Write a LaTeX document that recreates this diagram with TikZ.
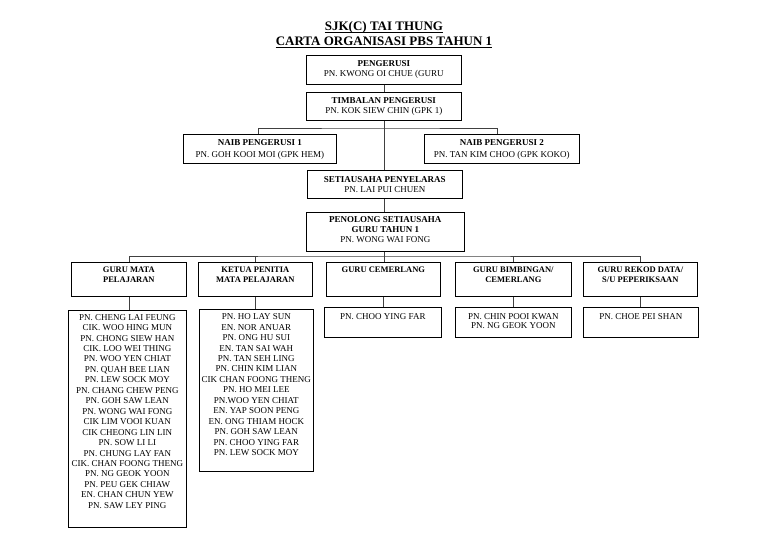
\documentclass[tikz,border=0pt]{standalone}
\usepackage{fontspec}
\setmainfont{Liberation Serif}
\begin{document}
\begin{tikzpicture}[x=1pt,y=-1pt,
  box/.style={draw, line width=0.7pt, inner sep=0pt, anchor=north west},
  txt/.style={font=\fontsize{9}{10}\selectfont, align=center, inner sep=0pt, anchor=north},
  hdr/.style={font=\bfseries\fontsize{8.5}{10}\selectfont, align=center, inner sep=0pt, anchor=north},
  lst/.style={font=\fontsize{9}{10.45}\selectfont, align=center, inner sep=0pt, anchor=north},
  ttl/.style={font=\bfseries\fontsize{13}{15}\selectfont, inner sep=0pt, anchor=base},
  uline/.style={draw=black, line width=0.8pt},
  conn/.style={draw=black!75, line width=0.6pt}]
\useasboundingbox[fill=white] (0,0) rectangle (768,543);
% title
\node[ttl] (title1) at (384,31) {SJK(C) TAI THUNG};
\node[ttl] (title2) at (384,45.5) {CARTA ORGANISASI PBS TAHUN 1};
\draw[uline] ([yshift=-1.6pt]title1.base west) -- ([yshift=-1.6pt]title1.base east);
\draw[uline] ([yshift=-1.6pt]title2.base west) -- ([yshift=-1.6pt]title2.base east);
% top chain
\node[box, minimum width=155, minimum height=29] (peng) at (306,55) {};
\node[txt] (pengT) at ([yshift=-5pt]peng.north) {\textbf{PENGERUSI}\\PN. KWONG OI CHUE (GURU};
\node[box, minimum width=155, minimum height=28] (timb) at (306,92) {};
\node[txt] (timbT) at ([yshift=-5pt]timb.north) {\textbf{TIMBALAN PENGERUSI}\\PN. KOK SIEW CHIN (GPK 1)};
\node[box, minimum width=153, minimum height=29] (naib1) at (183,134) {};
\node[txt, font=\fontsize{9}{12}\selectfont] (naib1T) at ([yshift=-5pt]naib1.north) {\textbf{NAIB PENGERUSI 1}\\PN. GOH KOOI MOI (GPK HEM)};
\node[box, minimum width=155, minimum height=29] (naib2) at (424,134) {};
\node[txt, font=\fontsize{9}{12}\selectfont] (naib2T) at ([yshift=-5pt]naib2.north) {\textbf{NAIB PENGERUSI 2}\\PN. TAN KIM CHOO (GPK KOKO)};
\node[box, minimum width=155, minimum height=28] (setia) at (307,170) {};
\node[txt] (setiaT) at ([yshift=-6pt]setia.north) {\textbf{SETIAUSAHA PENYELARAS}\\PN. LAI PUI CHUEN};
\node[box, minimum width=158, minimum height=39] (pen) at (306,212) {};
\node[txt] (penT) at ([yshift=-4pt]pen.north) {\textbf{PENOLONG SETIAUSAHA}\\\textbf{GURU TAHUN 1}\\PN. WONG WAI FONG};
% row boxes
\node[box, minimum width=115, minimum height=34] (r1) at (71,262) {};
\node[hdr] (r1T) at ([yshift=-5pt]r1.north) {GURU MATA\\PELAJARAN};
\node[box, minimum width=114, minimum height=34] (r2) at (198,262) {};
\node[hdr] (r2T) at ([yshift=-5pt]r2.north) {KETUA PENITIA\\MATA PELAJARAN};
\node[box, minimum width=114, minimum height=34] (r3) at (326,262) {};
\node[hdr] (r3T) at ([yshift=-5pt]r3.north) {GURU CEMERLANG};
\node[box, minimum width=116, minimum height=34] (r4) at (455,262) {};
\node[hdr] (r4T) at ([yshift=-5pt]r4.north) {GURU BIMBINGAN/\\CEMERLANG};
\node[box, minimum width=114, minimum height=34] (r5) at (583,262) {};
\node[hdr] (r5T) at ([yshift=-5pt]r5.north) {GURU REKOD DATA/\\S/U PEPERIKSAAN};
% detail boxes
\node[box, minimum width=118, minimum height=217] (d1) at (68,310) {};
\node[lst] (d1T) at ([yshift=-4pt]d1.north) {PN. CHENG LAI FEUNG\\CIK. WOO HING MUN\\PN. CHONG SIEW HAN\\CIK. LOO WEI THING\\PN. WOO YEN CHIAT\\PN. QUAH BEE LIAN\\PN. LEW SOCK MOY\\PN. CHANG CHEW PENG\\PN. GOH SAW LEAN\\PN. WONG WAI FONG\\CIK LIM VOOI KUAN\\CIK CHEONG LIN LIN\\PN. SOW LI LI\\PN. CHUNG LAY FAN\\CIK. CHAN FOONG THENG\\PN. NG GEOK YOON\\PN. PEU GEK CHIAW\\EN. CHAN CHUN YEW\\PN. SAW LEY PING};
\node[box, minimum width=114, minimum height=162] (d2) at (199,309) {};
\node[lst] (d2T) at ([yshift=-4.5pt]d2.north) {PN. HO LAY SUN\\EN. NOR ANUAR\\PN. ONG HU SUI\\EN. TAN SAI WAH\\PN. TAN SEH LING\\PN. CHIN KIM LIAN\\CIK CHAN FOONG THENG\\PN. HO MEI LEE\\PN.WOO YEN CHIAT\\EN. YAP SOON PENG\\EN. ONG THIAM HOCK\\PN. GOH SAW LEAN\\PN. CHOO YING FAR\\PN. LEW SOCK MOY};
\node[box, minimum width=117, minimum height=30] (d3) at (324,307) {};
\node[lst] (d3T) at ([yshift=-6pt]d3.north) {PN. CHOO YING FAR};
\node[box, minimum width=116, minimum height=30] (d4) at (455,307) {};
\node[lst, font=\fontsize{9}{9.5}\selectfont] (d4T) at ([yshift=-6pt]d4.north) {PN. CHIN POOI KWAN\\PN. NG GEOK YOON};
\node[box, minimum width=115, minimum height=30] (d5) at (583,307) {};
\node[lst] (d5T) at ([yshift=-6pt]d5.north) {PN. CHOE PEI SHAN};
% connectors
\coordinate (j1) at (383.5,128);
\coordinate (j2) at (383.5,256);
\draw[conn] (peng.south) -- (timb.north);
\draw[conn] (timb.south) -- (timb.south |- setia.north);
\draw[conn] ([xshift=75pt]naib1.north west) |- (j1) -| ([xshift=73pt]naib2.north west);
\draw[conn] (timb.south |- setia.south) -- (timb.south |- pen.north);
\draw[conn] (timb.south |- pen.south) -- (timb.south |- r3.north);
\draw[conn] (r1.north) |- (j2) -| (r5.north);
\draw[conn] (r2.north) -- (r2.north |- j2);
\draw[conn] (r4.north) -- (r4.north |- j2);
\draw[conn] (r1.south) -- (r1.south |- d1.north);
\draw[conn] (r2.south) -- (r2.south |- d2.north);
\draw[conn] (r3.south) -- (r3.south |- d3.north);
\draw[conn] (r4.south) -- (r4.south |- d4.north);
\draw[conn] (r5.south) -- (r5.south |- d5.north);
\end{tikzpicture}
\end{document}
